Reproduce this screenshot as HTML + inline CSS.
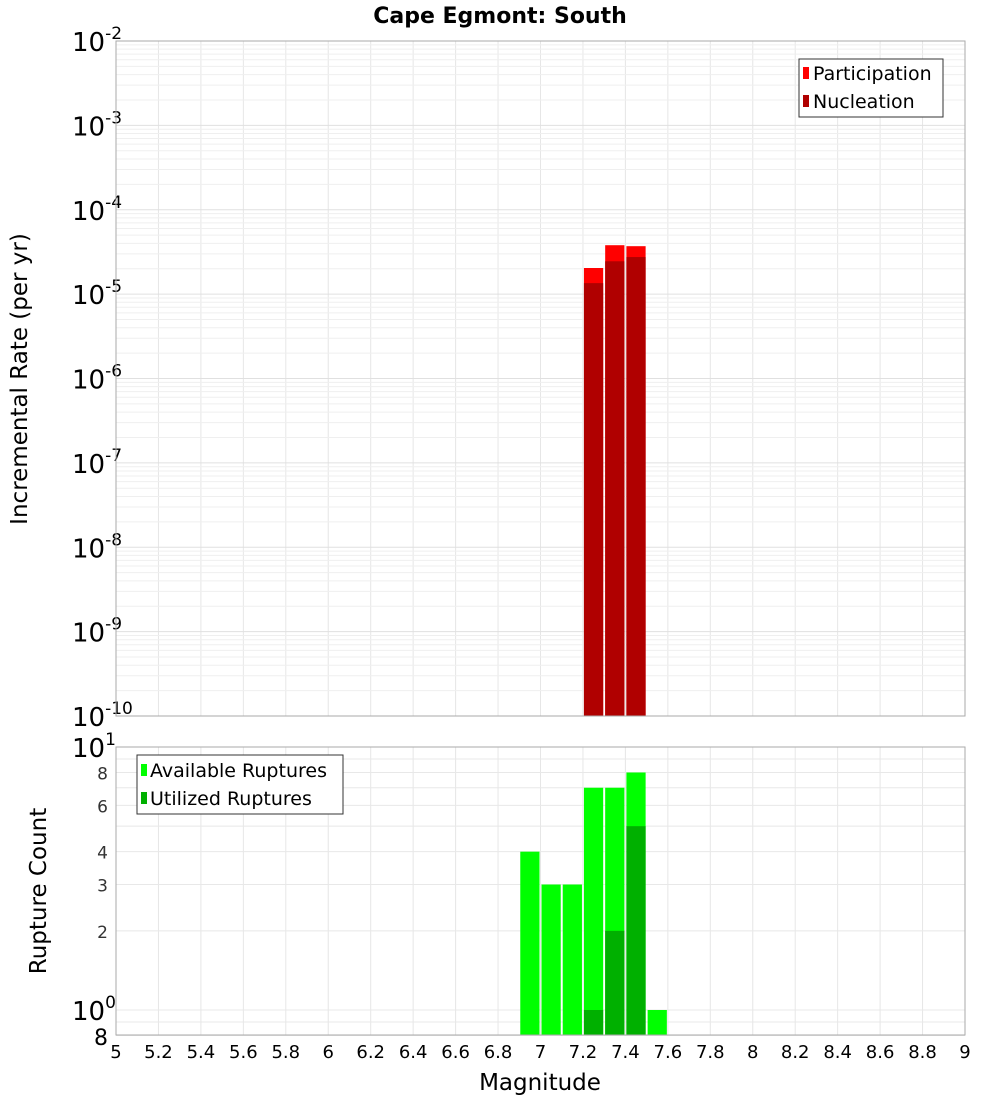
<!DOCTYPE html>
<html><head><meta charset="utf-8"><style>
body{margin:0;background:#fff;}
svg{font-family:"DejaVu Sans","Liberation Sans",sans-serif;}
</style></head><body>
<svg id="c" width="1000" height="1100" xmlns="http://www.w3.org/2000/svg">
<g id="topPlot"></g>
<g id="botPlot"></g>
<text x="500" y="23" text-anchor="middle" font-size="22" font-weight="bold">Cape Egmont: South</text>
<text transform="translate(27,379) rotate(-90)" text-anchor="middle" font-size="23">Incremental Rate (per yr)</text>
<text transform="translate(46,891) rotate(-90)" text-anchor="middle" font-size="23">Rupture Count</text>
<text x="540" y="1090" text-anchor="middle" font-size="23">Magnitude</text>
<g>
<rect x="799" y="59" width="144" height="58" fill="#fff" stroke="#333"/>
<rect x="803" y="67" width="6" height="12" fill="#ff0000"/>
<text x="813" y="80" font-size="19">Participation</text>
<rect x="803" y="95" width="6" height="12" fill="#b00000"/>
<text x="813" y="108" font-size="19">Nucleation</text>
</g>
<g>
<rect x="137" y="755" width="206" height="59" fill="#fff" stroke="#333"/>
<rect x="141" y="764" width="6" height="12" fill="#00ff00"/>
<text x="150" y="777" font-size="19">Available Ruptures</text>
<rect x="141" y="792" width="6" height="12" fill="#00b000"/>
<text x="150" y="805" font-size="19">Utilized Ruptures</text>
</g>
</svg>
<script>
const mags=[6.95,7.05,7.15,7.25,7.35,7.45,7.55];
const rateMags=[7.25,7.35,7.45];
const participation=[2.04e-5,3.8e-5,3.7e-5];
const nucleation=[1.35e-5,2.45e-5,2.75e-5];
const available=[4,3,3,7,7,8,1];
const utilizedMags=[7.25,7.35,7.45];
const utilized=[1,2,5];
const xTicks=[5,5.2,5.4,5.6,5.8,6,6.2,6.4,6.6,6.8,7,7.2,7.4,7.6,7.8,8,8.2,8.4,8.6,8.8,9];
const rateExps=[-2,-3,-4,-5,-6,-7,-8,-9,-10];
const countTicks=[2,3,4,6,8];

const NS="http://www.w3.org/2000/svg";
const L=116,R=965,T1=41,B1=716,T2=747,B2=1035;
const xs=m=>L+(m-5)/4*(R-L);
const y1=v=>T1+(-2-Math.log10(v))*(B1-T1)/8;
const y2=v=>1010-Math.log10(v)*263;
function el(p,t,a,txt){const e=document.createElementNS(NS,t);for(const k in a)e.setAttribute(k,a[k]);if(txt!==undefined)e.textContent=txt;p.appendChild(e);return e;}
const gTop=document.getElementById('topPlot'),gBot=document.getElementById('botPlot');
for(const m of xTicks){
 const g=el(gTop,'line',{x1:xs(m),x2:xs(m),y1:T1,y2:B1,stroke:'#e6e6e6'});
 
 
 const g2=el(gBot,'line',{x1:xs(m),x2:xs(m),y1:T2,y2:B2,stroke:'#e6e6e6'});
 
 
 const t=el(gBot,'text',{x:xs(m),y:B2+23,'text-anchor':'middle','font-size':18},String(m));
 
 
}
for(let e=-10;e<-2;e++)for(let k=1;k<10;k++){
 const yy=y1(k*Math.pow(10,e));
 const g=el(gTop,'line',{x1:L,x2:R,y1:yy,y2:yy,stroke:k==1?'#e0e0e0':'#efefef'});
 
 
}
for(const v of [0.8,0.9,1,2,3,4,5,6,7,8,9,10]){
 const yy=y2(v);
 const g=el(gBot,'line',{x1:L,x2:R,y1:yy,y2:yy,stroke:'#e8e8e8'});
 
 
}
for(const e of rateExps){
 const yy=y1(Math.pow(10,e));
 const t=el(gTop,'text',{x:72,y:yy+10,'font-size':26});
 
 
 el(t,'tspan',{},'10');el(t,'tspan',{dy:-12,'font-size':17},String(e));
}
for(const v of countTicks){
 const t=el(gBot,'text',{x:108,y:y2(v)+7,'text-anchor':'end','font-size':17,fill:'#333'},String(v));
 
 
}
[[1,10],[0,1]].forEach(([p,v])=>{
 const t=el(gBot,'text',{x:72,y:y2(v)+10,'font-size':26});
 
 
 el(t,'tspan',{},'10');el(t,'tspan',{dy:-12,'font-size':17},String(p));
});
{const t=el(gBot,'text',{x:108,y:B2+10,'text-anchor':'end','font-size':22},'8');
 
 }
const hw=0.05,gap=1;
function bar(p,m,yt,yb,fill,name){
 const r=el(p,'rect',{x:xs(m-hw)+gap,y:yt,width:xs(m+hw)-xs(m-hw)-2*gap,height:Math.max(0,yb-yt),fill:fill});
 
 
}
rateMags.forEach((m,i)=>{bar(gTop,m,y1(participation[i]),B1,'#ff0000','participation-bar');});
rateMags.forEach((m,i)=>{bar(gTop,m,y1(nucleation[i]),B1,'#b00000','nucleation-bar');});
mags.forEach((m,i)=>{bar(gBot,m,y2(available[i]),B2,'#00ff00','available-bar');});
utilizedMags.forEach((m,i)=>{bar(gBot,m,y2(utilized[i]),B2,'#00b000','utilized-bar');});
el(gTop,'rect',{x:L,y:T1,width:R-L,height:B1-T1,fill:'none',stroke:'#aaa'});
el(gBot,'rect',{x:L,y:T2,width:R-L,height:B2-T2,fill:'none',stroke:'#aaa'});
</script>
</body></html>
